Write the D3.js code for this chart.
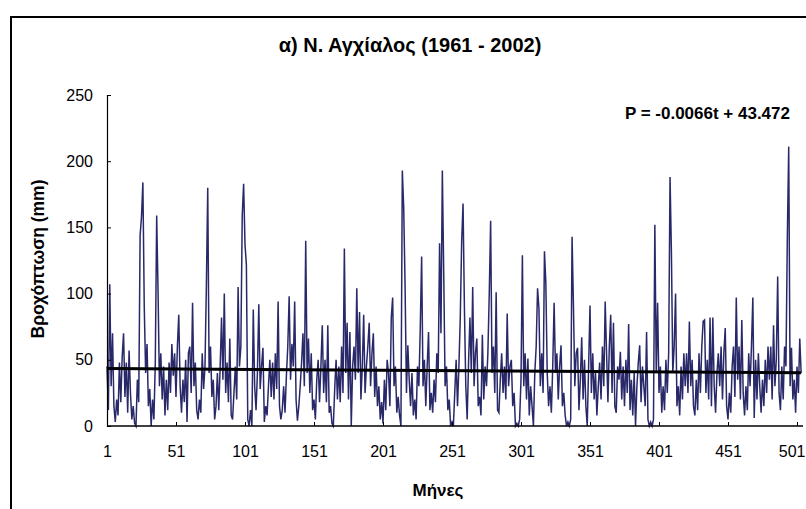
<!DOCTYPE html>
<html>
<head>
<meta charset="utf-8">
<script src="https://cdn.jsdelivr.net/npm/d3@7"></script>
<style>
  html, body { margin: 0; padding: 0; background: #fff; }
  svg { display: block; }
  text { font-family: "Liberation Sans", Arial, sans-serif; fill: #000; }
</style>
</head>
<body>
<svg id="chart" width="806" height="509"></svg>
<script>
// ---- data (monthly precipitation, mm, Jan 1961 - Dec 2002) ----
const titleText = "α) Ν. Αγχίαλος (1961 - 2002)";
const yAxisTitle = "Βροχόπτωση (mm)";
const xAxisTitle = "Μήνες";
const equationText = "P = -0.0066t + 43.472";
const trendSlope = -0.0066;
const trendIntercept = 43.472;
const xTickValues = [1, 51, 101, 151, 201, 251, 301, 351, 401, 451, 501];
const yTickValues = [0, 50, 100, 150, 200, 250];
const precipitation = [
  45, 12, 107, 30, 70, 15, 3, 20, 8, 48, 18, 52,
  70, 22, 48, 10, 57, 25, 5, 15, 2, 0, 35, 18,
  144, 158, 184, 90, 40, 62, 15, 28, 0, 20, 5, 48,
  159, 101, 30, 55, 20, 45, 8, 35, 12, 48, 25, 62,
  38, 55, 22, 60, 84, 30, 10, 35, 18, 50, 3, 55,
  60, 25, 93, 30, 48, 12, 5, 20, 10, 55, 28, 45,
  105, 180, 40, 60, 22, 35, 5, 15, 40, 12, 45, 82,
  35, 100, 25, 48, 18, 66, 8, 5, 25, 45, 20, 105,
  45, 60, 159, 183, 137, 122, 5, 0, 12, 0, 88, 30,
  12, 40, 92, 28, 45, 59, 3, 15, 8, 30, 50, 22,
  48, 20, 55, 28, 94, 15, 5, 12, 30, 10, 38, 60,
  98, 35, 62, 45, 94, 20, 4, 15, 30, 48, 70, 30,
  140, 40, 66, 25, 55, 12, 20, 5, 35, 50, 18, 45,
  76, 25, 50, 18, 76, 10, 15, 2, 0, 28, 50, 20,
  45, 18, 60, 25, 134, 40, 78, 20, 71, 0, 45, 60,
  35, 104, 40, 86, 20, 45, 84, 25, 45, 60, 78, 30,
  55, 70, 22, 45, 15, 30, 5, 18, 2, 35, 12, 50,
  40, 15, 82, 97, 30, 45, 10, 22, 8, 0, 193, 165,
  106, 25, 61, 35, 15, 40, 8, 20, 5, 45, 30, 74,
  128, 30, 50, 15, 45, 71, 12, 25, 10, 35, 18, 55,
  40, 138, 70, 193, 116, 30, 45, 12, 20, 0, 3, 0,
  25, 50, 15, 45, 82, 139, 168, 89, 30, 5, 48, 82,
  40, 105, 30, 55, 66, 15, 22, 8, 69, 20, 45, 30,
  55, 100, 155, 40, 60, 25, 101, 12, 10, 35, 55, 25,
  45, 20, 85, 30, 45, 50, 15, 25, 0, 2, 0, 5,
  35, 129, 30, 55, 20, 51, 8, 30, 15, 0, 40, 60,
  104, 89, 30, 55, 25, 132, 108, 40, 15, 30, 10, 45,
  93, 40, 55, 20, 45, 61, 15, 25, 8, 0, 3, 0,
  5, 143, 91, 30, 55, 59, 12, 35, 67, 20, 50, 15,
  0, 45, 91, 25, 55, 20, 40, 8, 30, 48, 20, 60,
  30, 94, 55, 18, 60, 84, 25, 78, 15, 10, 45, 35,
  56, 20, 45, 15, 50, 25, 77, 12, 35, 8, 40, 0,
  30, 48, 61, 18, 45, 30, 15, 71, 5, 0, 3, 0,
  5, 152, 40, 93, 25, 45, 10, 30, 12, 50, 25, 55,
  188, 131, 40, 60, 100, 15, 30, 8, 45, 20, 55, 30,
  55, 25, 79, 30, 50, 15, 8, 35, 12, 55, 25, 60,
  79, 80, 25, 50, 20, 82, 15, 82, 30, 10, 40, 55,
  30, 60, 20, 55, 74, 15, 5, 25, 10, 45, 60, 22,
  97, 35, 60, 20, 80, 25, 8, 30, 12, 55, 30, 60,
  97, 6, 50, 20, 55, 30, 10, 35, 15, 50, 25, 60,
  35, 60, 20, 76, 30, 50, 113, 25, 12, 45, 20, 60,
  45, 143, 211, 30, 59, 20, 35, 10, 45, 25, 66, 40
];

// ---- drawing ----
const svg = d3.select("#chart");

// chart frame
svg.append("path")
  .attr("d", "M11,509 L11,17 L806,17")
  .attr("fill", "none").attr("stroke", "#000").attr("stroke-width", 2);

const x = d3.scaleLinear().domain([1, 501]).range([107, 797]);
const y = d3.scaleLinear().domain([0, 250]).range([426, 95]);
const months = precipitation.map((v, i) => i + 1);

// title
svg.append("text")
  .attr("x", 410).attr("y", 52)
  .attr("text-anchor", "middle")
  .style("font-size", "20px").style("font-weight", "bold")
  .text(titleText);

// data line
const line = d3.line().x((d, i) => x(months[i])).y(d => y(d));
svg.append("path")
  .datum(precipitation)
  .attr("d", line)
  .attr("fill", "none")
  .attr("stroke", "#29296a")
  .attr("stroke-width", 1.5)
  .attr("stroke-linejoin", "miter");

// trend line
svg.append("line")
  .attr("x1", x(1)).attr("y1", y(trendIntercept + trendSlope * 1))
  .attr("x2", x(months.length)).attr("y2", y(trendIntercept + trendSlope * months.length))
  .attr("stroke", "#000").attr("stroke-width", 3);

// y axis
const yAxis = d3.axisRight(y).tickValues(yTickValues).tickSize(4).tickFormat(d3.format("d"));
const gy = svg.append("g").attr("transform", `translate(${x(1)},0)`).call(yAxis);
gy.select(".domain").attr("stroke", "#000").attr("stroke-width", 1.2);
gy.selectAll("text")
  .attr("x", -14).attr("text-anchor", "end")
  .style("font-size", "16px");

// x axis
const xAxis = d3.axisBottom(x).tickValues(xTickValues).tickSize(-4).tickSizeOuter(0).tickPadding(20);
const gx = svg.append("g").attr("transform", `translate(0,${y(0)})`).call(xAxis);
gx.select(".domain").attr("d", `M${x(1)},0H803`).attr("stroke", "#000").attr("stroke-width", 1.6);
gx.selectAll("text").style("font-size", "16px");
gx.selectAll(".tick").filter(d => d === 501).select("text")
  .attr("text-anchor", "end").attr("x", 805 - x(501));

// axis titles
svg.append("text")
  .attr("transform", "translate(44,259) rotate(-90)")
  .attr("text-anchor", "middle")
  .style("font-size", "17.5px").style("font-weight", "bold")
  .text(yAxisTitle);

svg.append("text")
  .attr("x", 438).attr("y", 496)
  .attr("text-anchor", "middle")
  .style("font-size", "17px").style("font-weight", "bold")
  .text(xAxisTitle);

// equation
svg.append("text")
  .attr("x", 790).attr("y", 119)
  .attr("text-anchor", "end")
  .style("font-size", "17px").style("font-weight", "bold")
  .text(equationText);
</script>
</body>
</html>
